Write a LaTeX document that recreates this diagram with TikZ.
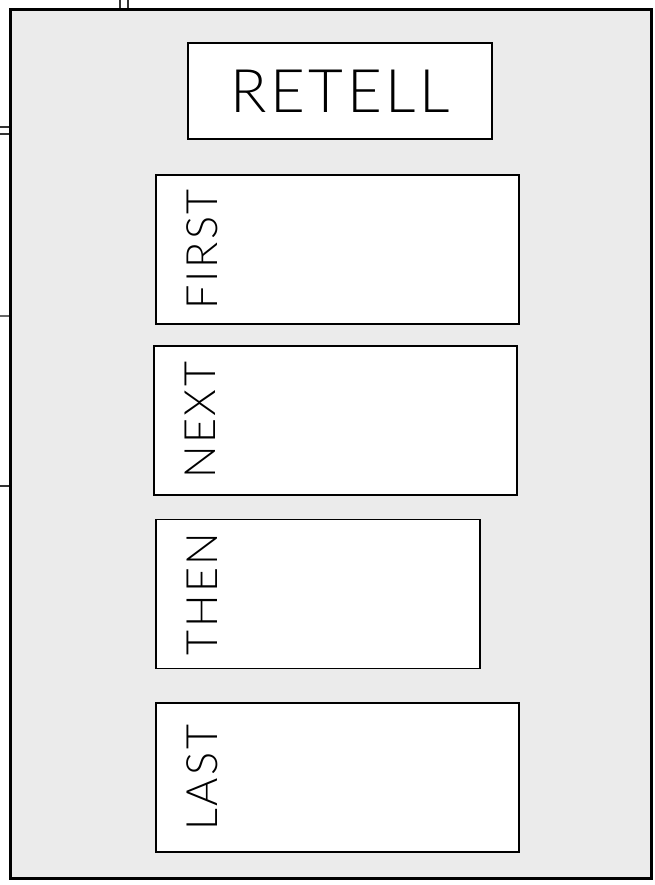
\documentclass[tikz,border=0pt]{standalone}
\usepackage{fontspec}
\newfontfamily\thinsans{Lato Light}[LetterSpace=6]
\usepackage{tikz}
\usetikzlibrary{positioning, calc}

\begin{document}
\begin{tikzpicture}[
    panel/.style={rectangle, draw=black, line width=2.1pt, fill=black!8, anchor=north west, minimum width=16.025cm, minimum height=21.725cm},
    titlebox/.style={rectangle, draw, line width=1.3pt, fill=white, minimum width=7.6cm, minimum height=2.4cm, inner sep=0pt, font=\thinsans\fontsize{42.7}{46}\selectfont},
    stepbox/.style={rectangle, draw, line width=1.3pt, fill=white, minimum width=9.075cm, minimum height=3.725cm, inner sep=0pt},
    steplbl/.style={rotate=90, inner sep=0pt, font=\thinsans\fontsize{30.7}{33}\selectfont},
    stub/.style={line width=1.2pt, black!80}
]

\useasboundingbox (0,0) rectangle (16.375,-22.125);

% Bits of the neighbouring figure
\draw[stub] (0,-3.175) -- (0.225,-3.175);
\draw[stub] (0,-3.35) -- (0.225,-3.35);
\draw[stub, black!60] (0,-7.9) -- (0.225,-7.9);
\draw[stub] (0,-12.15) -- (0.225,-12.15);
\draw[stub] (3.0,0) -- (3.0,-0.2);
\draw[stub] (3.2,0) -- (3.2,-0.2);

% Grey panel
\node[panel] (frame) at (0.225,-0.2) {};

% Title
\node[titlebox] (retell) at (8.5,-2.275) {RETELL};

% Steps
\node[stepbox, below=0.85cm of retell, xshift=-0.0625cm] (first) {};
\node[stepbox, below=0.5cm of first.south west, anchor=north west, xshift=-0.05cm] (next) {};
\node[stepbox, below=0.575cm of next.south west, anchor=north west, xshift=0.05cm, minimum width=8.1cm] (then) {};
\node[stepbox, below=0.825cm of then.south west, anchor=north west] (last) {};

% Labels on the left of each box
\node[steplbl] (firstlbl) at ([xshift=1.175cm]first.west) {FIRST};
\node[steplbl] (nextlbl) at ([xshift=1.175cm]next.west) {NEXT};
\node[steplbl] (thenlbl) at ([xshift=1.175cm]then.west) {THEN};
\node[steplbl] (lastlbl) at ([xshift=1.175cm]last.west) {LAST};

\end{tikzpicture}
\end{document}
